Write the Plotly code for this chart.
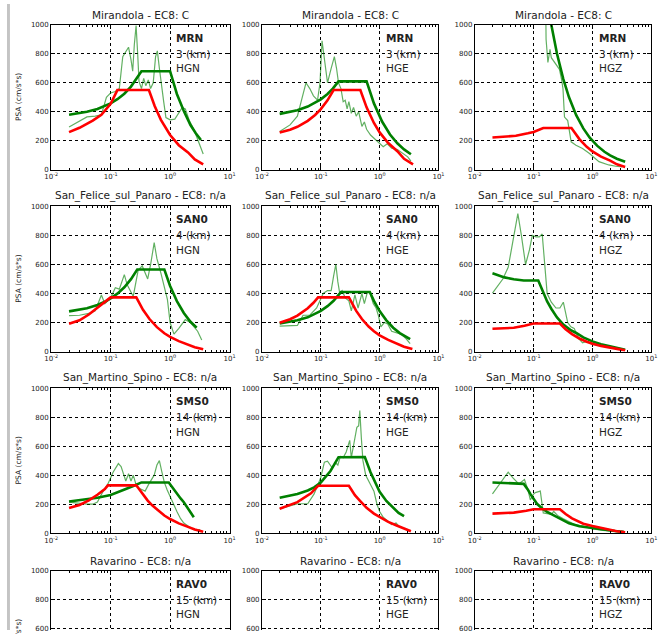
import plotly.graph_objects as go

# ---------------------------------------------------------------------------
# Station metadata
# ---------------------------------------------------------------------------
STATION_TITLES = ["Mirandola - EC8: C", "San_Felice_sul_Panaro - EC8: n/a",
                  "San_Martino_Spino - EC8: n/a", "Ravarino - EC8: n/a"]
STATION_CODES = ["MRN", "SAN0", "SMS0", "RAV0"]
STATION_DIST = ["3 (km)", "4 (km)", "14 (km)", "15 (km)"]
COMPONENTS = ["HGN", "HGE", "HGZ"]

X_TICKVALS = [0.01, 0.1, 1, 10]
X_TICKTEXT = ["10<sup>-2</sup>", "10<sup>-1</sup>", "10<sup>0</sup>", "10<sup>1</sup>"]
Y_TICKVALS = [0, 200, 400, 600, 800, 1000]

# ---------------------------------------------------------------------------
# Spectra: period T (s) and PSA (cm/s*s)
#   ec8 = code spectrum (red), fit = smoothed spectrum (dark green),
#   rec = recorded spectrum (thin green)
# ---------------------------------------------------------------------------
# MRN - HGN
mrn_hgn_ec8_t = [0.02, 0.03, 0.05, 0.07, 0.1, 0.13, 0.44, 0.55, 0.7, 1.0, 1.4, 2.0, 2.6, 3.6]
mrn_hgn_ec8_psa = [260, 290, 340, 380, 455, 550, 550, 440, 345, 240, 170, 120, 72, 38]
mrn_hgn_fit_t = [0.02, 0.04, 0.06, 0.08, 0.1, 0.13, 0.17, 0.22, 0.28, 0.33, 1.0, 1.3, 1.7, 2.2, 2.7, 3.3]
mrn_hgn_fit_psa = [380, 400, 420, 440, 458, 487, 525, 574, 632, 680, 680, 523, 405, 309, 252, 206]
mrn_hgn_rec_t = [0.02, 0.03, 0.04, 0.055, 0.07, 0.085, 0.1, 0.12, 0.14, 0.16, 0.18, 0.2, 0.22,
                 0.235, 0.25, 0.268, 0.285, 0.3, 0.33, 0.36, 0.39, 0.43, 0.47, 0.52, 0.57, 0.61,
                 0.66, 0.72, 0.78, 0.85, 1.0, 1.2, 1.4, 1.6, 1.8, 2.1, 2.5, 2.9, 3.3, 3.6]
mrn_hgn_rec_psa = [295, 335, 365, 370, 380, 500, 530, 540, 560, 780, 820, 845, 760,
                   680, 860, 995, 800, 610, 560, 630, 580, 620, 560, 600, 780, 820,
                   700, 560, 470, 360, 345, 350, 390, 430, 420, 340, 280, 210, 160, 110]

# MRN - HGE
mrn_hge_ec8_t = [0.02, 0.03, 0.04, 0.06, 0.08, 0.1, 0.13, 0.165, 0.47, 0.6, 0.8, 1.0, 1.4, 2.0, 2.6, 3.7]
mrn_hge_ec8_psa = [257, 277, 297, 338, 378, 419, 479, 550, 550, 431, 323, 258, 185, 129, 76, 38]
mrn_hge_fit_t = [0.02, 0.04, 0.06, 0.08, 0.1, 0.13, 0.16, 0.2, 0.6, 0.8, 1.1, 1.5, 2.0, 2.6, 3.4]
mrn_hge_fit_psa = [386, 411, 436, 461, 486, 523, 560, 610, 610, 458, 333, 244, 183, 141, 108]
mrn_hge_rec_t = [0.02, 0.03, 0.04, 0.05, 0.056, 0.065, 0.075, 0.088, 0.097, 0.105, 0.115, 0.13,
                 0.15, 0.17, 0.185, 0.2, 0.22, 0.24, 0.26, 0.28, 0.3, 0.33, 0.36, 0.4, 0.44,
                 0.5, 0.55, 0.6, 0.7, 0.8, 0.9, 1.0, 1.15, 1.35, 1.6, 2.0, 2.5, 3.0, 3.4]
mrn_hge_rec_psa = [265, 310, 370, 520, 600, 560, 510, 480, 600, 890, 760, 600,
                   700, 780, 700, 600, 560, 470, 480, 420, 470, 390, 430, 370, 400,
                   300, 330, 280, 240, 220, 200, 180, 160, 180, 150, 140, 110, 90, 60]

# MRN - HGZ
mrn_hgz_ec8_t = [0.02, 0.05, 0.08, 0.1, 0.146, 0.44, 0.6, 0.8, 1.0, 1.4, 2.0, 2.6, 3.6]
mrn_hgz_ec8_psa = [223, 235, 252, 261, 289, 289, 212, 159, 127, 91, 64, 38, 20]
mrn_hgz_fit_t = [0.15, 0.2, 0.25, 0.32, 0.4, 0.53, 0.7, 0.9, 1.2, 1.6, 2.0, 2.6, 3.6]
mrn_hgz_fit_psa = [1333, 1000, 800, 625, 500, 377, 286, 222, 167, 125, 100, 77, 56]
mrn_hgz_rec_t = [0.16, 0.163, 0.175, 0.185, 0.19, 0.2, 0.245, 0.275, 0.3, 0.316, 0.335, 0.36,
                 0.38, 0.435, 0.525, 0.68, 0.88, 1.29, 1.89, 2.5, 3.2]
mrn_hgz_rec_psa = [1200, 900, 740, 800, 830, 773, 716, 693, 620, 557, 364, 350,
                   340, 193, 170, 148, 114, 57, 34, 25, 20]

# SAN0 - HGN
san_hgn_ec8_t = [0.02, 0.03, 0.043, 0.06, 0.081, 0.1, 0.27, 0.35, 0.45, 0.6, 0.8, 1.0, 1.4, 2.0, 2.6, 3.6]
san_hgn_ec8_psa = [191, 215, 255, 300, 345, 373, 373, 288, 224, 168, 126, 101, 72, 50, 30, 16]
san_hgn_fit_t = [0.02, 0.04, 0.06, 0.08, 0.1, 0.13, 0.17, 0.22, 0.28, 0.8, 1.0, 1.3, 1.7, 2.2, 2.8]
san_hgn_fit_psa = [277, 299, 321, 343, 366, 399, 443, 499, 565, 565, 452, 348, 266, 205, 165]
san_hgn_rec_t = [0.02, 0.03, 0.045, 0.055, 0.07, 0.08, 0.1, 0.12, 0.14, 0.17, 0.19, 0.24, 0.29,
                 0.34, 0.42, 0.47, 0.54, 0.6, 0.7, 0.9, 1.0, 1.16, 1.4, 1.8, 2.2, 2.9, 3.4]
san_hgn_rec_psa = [248, 250, 265, 280, 390, 330, 370, 440, 430, 530, 460, 380, 560,
                   590, 500, 600, 750, 640, 540, 360, 200, 120, 160, 220, 200, 140, 80]

# SAN0 - HGE
san_hge_ec8_t = [0.02, 0.03, 0.04, 0.06, 0.075, 0.09, 0.3, 0.4, 0.5, 0.65, 0.8, 1.0, 1.4, 2.0, 2.6, 3.6]
san_hge_ec8_psa = [198, 223, 248, 298, 336, 373, 373, 280, 224, 172, 140, 112, 80, 56, 33, 17]
san_hge_fit_t = [0.02, 0.04, 0.06, 0.08, 0.1, 0.13, 0.165, 0.22, 0.68, 0.8, 1.0, 1.3, 1.7, 2.2, 2.7, 3.3]
san_hge_fit_psa = [193, 215, 236, 258, 280, 313, 350, 410, 410, 349, 279, 215, 164, 127, 103, 85]
san_hge_rec_t = [0.02, 0.03, 0.04, 0.05, 0.065, 0.085, 0.1, 0.11, 0.13, 0.15, 0.165, 0.18, 0.195,
                 0.21, 0.23, 0.26, 0.3, 0.33, 0.38, 0.43, 0.5, 0.55, 0.62, 0.68, 0.78, 0.87,
                 0.95, 1.05, 1.2, 1.37, 1.6, 1.9, 2.3, 2.8, 3.3]
san_hge_rec_psa = [175, 175, 180, 250, 250, 300, 360, 400, 420, 420, 520, 600, 480,
                   400, 420, 370, 350, 280, 390, 300, 400, 330, 410, 410, 330, 300,
                   250, 170, 200, 190, 140, 130, 120, 90, 55]

# SAN0 - HGZ
san_hgz_ec8_t = [0.02, 0.046, 0.07, 0.1, 0.28, 0.35, 0.45, 0.6, 0.8, 1.0, 1.4, 2.0, 2.6, 3.6]
san_hgz_ec8_psa = [157, 164, 178, 193, 193, 154, 120, 90, 68, 54, 39, 27, 16, 8]
san_hgz_fit_t = [0.02, 0.032, 0.046, 0.068, 0.12, 0.15, 0.17, 0.2, 0.25, 0.32, 0.42, 0.53,
                 0.7, 1.0, 1.4, 1.9, 2.6, 3.6]
san_hgz_fit_psa = [539, 511, 498, 490, 490, 400, 345, 295, 235, 186, 150, 128,
                   98, 70, 50, 38, 24, 12]
san_hgz_rec_t = [0.02, 0.03, 0.037, 0.045, 0.054, 0.062, 0.073, 0.085, 0.095, 0.11, 0.125, 0.14,
                 0.155, 0.17, 0.2, 0.24, 0.28, 0.32, 0.38, 0.43, 0.49, 0.58, 0.68, 0.8, 1.0,
                 1.3, 1.9, 2.5, 3.4]
san_hgz_rec_psa = [402, 500, 580, 760, 950, 800, 600, 700, 800, 790, 790, 810,
                   560, 400, 340, 300, 300, 340, 200, 170, 160, 90, 60, 70, 50,
                   45, 40, 25, 15]

# SMS0 - HGN
sms_hgn_ec8_t = [0.02, 0.03, 0.043, 0.06, 0.08, 0.09, 0.27, 0.35, 0.42, 0.5, 0.66, 0.8, 1.0,
                 1.4, 1.9, 2.6, 3.6]
sms_hgn_ec8_psa = [174, 195, 226, 265, 305, 330, 330, 265, 225, 192, 148, 122, 98,
                   68, 47, 26, 11]
sms_hgn_fit_t = [0.02, 0.04, 0.06, 0.1, 0.14, 0.18, 0.24, 0.33, 0.95, 1.2, 1.5, 1.7, 2.1, 2.5]
sms_hgn_fit_psa = [219, 232, 244, 264, 285, 305, 325, 350, 350, 290, 240, 214, 160, 110]
sms_hgn_rec_t = [0.02, 0.03, 0.04, 0.05, 0.06, 0.075, 0.09, 0.11, 0.135, 0.15, 0.17, 0.18, 0.2,
                 0.22, 0.24, 0.27, 0.3, 0.33, 0.38, 0.44, 0.54, 0.6, 0.66, 0.72, 0.8, 0.89,
                 1.0, 1.15, 1.3, 1.5, 1.7, 2.0, 2.5, 3.2]
sms_hgn_rec_psa = [215, 205, 200, 200, 215, 290, 340, 420, 480, 460, 380, 360, 410,
                   360, 400, 330, 310, 300, 290, 340, 400, 470, 500, 430, 350, 300,
                   250, 190, 150, 100, 70, 50, 25, 25]

# SMS0 - HGE
sms_hge_ec8_t = [0.02, 0.04, 0.068, 0.09, 0.3, 0.38, 0.46, 0.6, 0.8, 1.0, 1.4, 1.9, 2.6, 3.4]
sms_hge_ec8_psa = [169, 214, 275, 327, 327, 262, 225, 175, 135, 110, 78, 55, 30, 14]
sms_hge_fit_t = [0.02, 0.04, 0.06, 0.077, 0.1, 0.146, 0.2, 0.56, 0.7, 0.85, 1.0, 1.3, 1.65, 2.1, 2.6]
sms_hge_fit_psa = [244, 271, 295, 316, 350, 429, 524, 525, 420, 346, 285, 222, 178, 140, 118]
sms_hge_rec_t = [0.02, 0.03, 0.041, 0.06, 0.077, 0.1, 0.115, 0.13, 0.156, 0.178, 0.195, 0.215,
                 0.24, 0.27, 0.31, 0.33, 0.36, 0.41, 0.44, 0.46, 0.49, 0.52, 0.58, 0.68, 0.8,
                 0.9, 1.0, 1.15, 1.3, 1.6, 1.9, 2.2]
sms_hge_rec_psa = [170, 190, 203, 203, 271, 384, 490, 497, 451, 485, 470, 530,
                   520, 560, 640, 520, 600, 730, 740, 845, 650, 500, 400, 350, 290,
                   200, 150, 110, 90, 60, 70, 40]

# SMS0 - HGZ
sms_hgz_ec8_t = [0.02, 0.046, 0.075, 0.1, 0.28, 0.35, 0.45, 0.53, 0.7, 1.0, 1.4, 2.0, 2.6, 3.6]
sms_hgz_ec8_psa = [135, 142, 155, 165, 165, 132, 102, 88, 66, 50, 36, 24, 14, 7]
sms_hgz_fit_t = [0.02, 0.046, 0.068, 0.08, 0.088, 0.114, 0.14, 0.17, 0.24, 0.4, 0.6, 1.0, 1.6, 2.4, 3.4]
sms_hgz_fit_psa = [350, 343, 340, 300, 271, 203, 170, 147, 113, 68, 48, 34, 22, 15, 10]
sms_hgz_rec_t = [0.02, 0.028, 0.037, 0.045, 0.056, 0.07, 0.08, 0.088, 0.1, 0.107, 0.13, 0.146,
                 0.17, 0.2, 0.22, 0.26, 0.32, 0.4, 0.5, 0.68, 1.0, 1.5, 2.5, 3.4]
sms_hgz_rec_psa = [271, 350, 420, 380, 340, 370, 300, 230, 270, 280, 290, 140,
                   135, 130, 150, 120, 100, 80, 60, 50, 30, 20, 12, 8]

# Row/column layout of the spectra (RAV0 has no traces)
SPECTRA = [
    [(mrn_hgn_ec8_t, mrn_hgn_ec8_psa, mrn_hgn_fit_t, mrn_hgn_fit_psa, mrn_hgn_rec_t, mrn_hgn_rec_psa),
     (mrn_hge_ec8_t, mrn_hge_ec8_psa, mrn_hge_fit_t, mrn_hge_fit_psa, mrn_hge_rec_t, mrn_hge_rec_psa),
     (mrn_hgz_ec8_t, mrn_hgz_ec8_psa, mrn_hgz_fit_t, mrn_hgz_fit_psa, mrn_hgz_rec_t, mrn_hgz_rec_psa)],
    [(san_hgn_ec8_t, san_hgn_ec8_psa, san_hgn_fit_t, san_hgn_fit_psa, san_hgn_rec_t, san_hgn_rec_psa),
     (san_hge_ec8_t, san_hge_ec8_psa, san_hge_fit_t, san_hge_fit_psa, san_hge_rec_t, san_hge_rec_psa),
     (san_hgz_ec8_t, san_hgz_ec8_psa, san_hgz_fit_t, san_hgz_fit_psa, san_hgz_rec_t, san_hgz_rec_psa)],
    [(sms_hgn_ec8_t, sms_hgn_ec8_psa, sms_hgn_fit_t, sms_hgn_fit_psa, sms_hgn_rec_t, sms_hgn_rec_psa),
     (sms_hge_ec8_t, sms_hge_ec8_psa, sms_hge_fit_t, sms_hge_fit_psa, sms_hge_rec_t, sms_hge_rec_psa),
     (sms_hgz_ec8_t, sms_hgz_ec8_psa, sms_hgz_fit_t, sms_hgz_fit_psa, sms_hgz_rec_t, sms_hgz_rec_psa)],
    [None, None, None],
]

# ---------------------------------------------------------------------------
# Page geometry (pixels)
# ---------------------------------------------------------------------------
W, H = 671, 634
COL_X = [(45, 227), (260, 440), (477, 657)]
ROW_TOP = [21, 205, 389, 574]
ROW_H = 147

FONT = "DejaVu Sans"
TXT = "#222222"
RED = "#ff0000"
DKGREEN = "#008000"
LTGREEN = "rgba(0,128,0,0.62)"

minor_x = [k * 10.0 ** e for e in (-2, -1, 0) for k in range(2, 10)]

fig = go.Figure()
annotations = []

for r in range(4):
    top = ROW_TOP[r]
    bottom = top + ROW_H
    y1 = 1 - top / H
    if bottom <= H:
        y0 = 1 - bottom / H
        yrange = [0, 1000]
    else:
        y0 = 0.0
        visible = (H - top) / ROW_H
        yrange = [1000 * (1 - visible), 1000]
    for c in range(3):
        k = r * 3 + c + 1
        xa = "x" if k == 1 else f"x{k}"
        ya = "y" if k == 1 else f"y{k}"
        xkey = "xaxis" if k == 1 else f"xaxis{k}"
        ykey = "yaxis" if k == 1 else f"yaxis{k}"
        cx0, cx1 = COL_X[c]
        cut = bottom > H

        fig.layout[xkey] = dict(
            type="log", range=[-2, 1], domain=[cx0 / W, cx1 / W], anchor=ya,
            tickvals=X_TICKVALS, ticktext=X_TICKTEXT,
            showticklabels=not cut, side="top" if cut else "bottom",
            ticks="inside", ticklen=4, tickwidth=1, tickcolor="black",
            showline=True, linecolor="black", linewidth=1,
            mirror=False if cut else "ticks",
            showgrid=True, gridcolor="black", griddash="dot", gridwidth=1,
            minor=dict(tickvals=minor_x, ticks="inside", ticklen=2,
                       tickcolor="black", showgrid=False),
            tickfont=dict(family=FONT, size=7, color=TXT),
            zeroline=False, fixedrange=True,
        )
        fig.layout[ykey] = dict(
            range=yrange, domain=[y0, y1], anchor=xa,
            tickvals=Y_TICKVALS, ticks="inside", ticklen=4, tickcolor="black",
            showline=True, linecolor="black", linewidth=1, mirror="ticks",
            showgrid=True, gridcolor="black", griddash="dot", gridwidth=1,
            tickfont=dict(family=FONT, size=7, color=TXT),
            zeroline=False, fixedrange=True,
        )

        spec = SPECTRA[r][c]
        if spec is not None:
            ec8_t, ec8_psa, fit_t, fit_psa, rec_t, rec_psa = spec
            fig.add_trace(go.Scatter(x=rec_t, y=rec_psa, mode="lines", xaxis=xa, yaxis=ya,
                                     line=dict(color=LTGREEN, width=1.2),
                                     showlegend=False, hoverinfo="skip"))
            fig.add_trace(go.Scatter(x=fit_t, y=fit_psa, mode="lines", xaxis=xa, yaxis=ya,
                                     line=dict(color=DKGREEN, width=2.6),
                                     showlegend=False, hoverinfo="skip"))
            fig.add_trace(go.Scatter(x=ec8_t, y=ec8_psa, mode="lines", xaxis=xa, yaxis=ya,
                                     line=dict(color=RED, width=2.6),
                                     showlegend=False, hoverinfo="skip"))
        else:
            # empty axes still need a trace so the subplot is drawn
            fig.add_trace(go.Scatter(x=[None], y=[None], mode="lines", xaxis=xa, yaxis=ya,
                                     showlegend=False, hoverinfo="skip"))

        # panel title
        annotations.append(dict(
            text=STATION_TITLES[r], xref="paper", yref="paper",
            x=(cx0 + cx1) / 2 / W, y=y1, xanchor="center", yanchor="bottom", yshift=2,
            showarrow=False, font=dict(family=FONT, size=10.5, color=TXT)))
        # station / distance / component labels
        for txt, yv in ((f"<b>{STATION_CODES[r]}</b>", 912),
                        (STATION_DIST[r], 800),
                        (COMPONENTS[c], 700)):
            annotations.append(dict(
                text=txt, xref=xa, yref=ya, x=0.07, y=yv, xanchor="left", yanchor="middle",
                showarrow=False, font=dict(family=FONT, size=10.5, color=TXT)))

    # y-axis label on the first column of each row
    annotations.append(dict(
        text="PSA (cm/s*s)", xref="paper", yref="paper",
        x=12 / W, y=1 - (top + ROW_H / 2) / H, xanchor="center", yanchor="middle",
        textangle=-90, showarrow=False, font=dict(family=FONT, size=7.5, color=TXT)))

fig.update_layout(
    width=W, height=H,
    margin=dict(l=0, r=0, t=0, b=0),
    paper_bgcolor="white", plot_bgcolor="white",
    annotations=annotations,
    shapes=[dict(type="rect", xref="paper", yref="paper", x0=0, x1=3 / W, y0=0, y1=1,
                 fillcolor="#c4c4c4", line=dict(width=0), layer="above")],
)

fig.write_html("out.html")
